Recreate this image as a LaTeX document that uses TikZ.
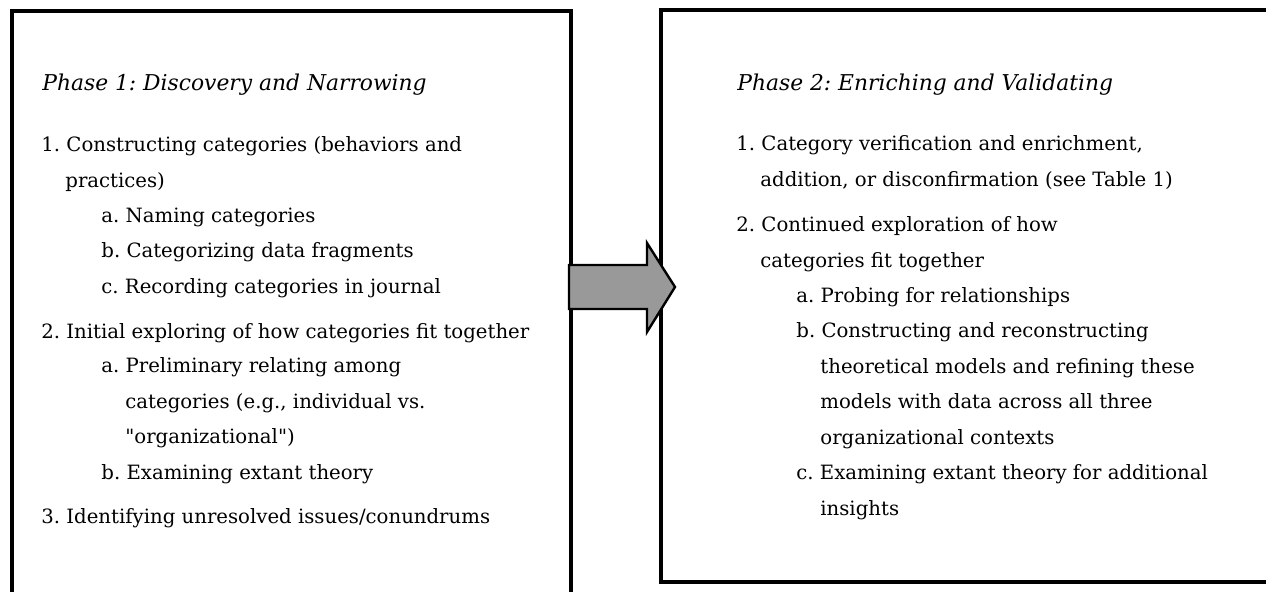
\documentclass[tikz,border=0pt]{standalone}
\usepackage{fontspec}
\setmainfont{DejaVu Serif}
\usepackage{tikz}
\usetikzlibrary{positioning}
\frenchspacing

\begin{document}
\begin{tikzpicture}[
    x=0.5pt, y=-0.5pt,
    font=\fontsize{9.85pt}{17.75pt}\selectfont,
    phase/.style   = {draw=black, line width=1.8pt, anchor=north west, inner sep=0pt},
    title/.style   = {anchor=base west, inner sep=0pt, font=\fontsize{10.9pt}{17.75pt}\selectfont\itshape},
    items/.style   = {anchor=base west, inner sep=0pt, align=left},
    advance/.style = {fill=black!40, draw=black, line width=1.2pt, line join=miter}
  ]
  \clip (0,0) rectangle (1266,591);

  % --- the two phase boxes ---
  \node[phase, minimum width=279.5pt, minimum height=330pt] (phaseone) at (10,9) {};
  \node[phase, minimum width=350pt,   minimum height=286pt] (phasetwo) at (659,8) {};

  % --- phase 1 text (multi-line nodes sit on their last baseline) ---
  \node[title] (oneTitle) at (42,90) {Phase 1: Discovery and Narrowing};
  \node[items] (oneA) at (41,187)
    {1. Constructing categories (behaviors and\\\hspace*{12pt}practices)};
  \node[items] (oneAsub) at (101,293)
    {a. Naming categories\\b. Categorizing data fragments\\c. Recording categories in journal};
  \node[items] (oneB) at (41,338) {2. Initial exploring of how categories fit together};
  \node[items] (oneBsub) at (101,479)
    {a. Preliminary relating among\\\hspace*{12pt}categories (e.g., individual vs.\\
     \hspace*{12pt}\textquotedbl organizational\textquotedbl)\\b. Examining extant theory};
  \node[items] (oneC) at (41,523) {3. Identifying unresolved issues/conundrums};

  % --- phase 2 text ---
  \node[title] (twoTitle) at (737,90) {Phase 2: Enriching and Validating};
  \node[items] (twoA) at (736,186)
    {1. Category verification and enrichment,\\\hspace*{12pt}addition, or disconfirmation (see Table 1)};
  \node[items] (twoB) at (736,267)
    {2. Continued exploration of how\\\hspace*{12pt}categories fit together};
  \node[items] (twoBsub) at (796,515)
    {a. Probing for relationships\\b. Constructing and reconstructing\\
     \hspace*{12pt}theoretical models and refining these\\
     \hspace*{12pt}models with data across all three\\
     \hspace*{12pt}organizational contexts\\
     c. Examining extant theory for additional\\\hspace*{12pt}insights};

  % --- block arrow from phase 1 to phase 2 ---
  \draw[advance] (569,265) -- (647,265) -- (647,243) -- (675,287)
    -- (647,332) -- (647,309) -- (569,309) -- cycle;

\end{tikzpicture}
\end{document}
